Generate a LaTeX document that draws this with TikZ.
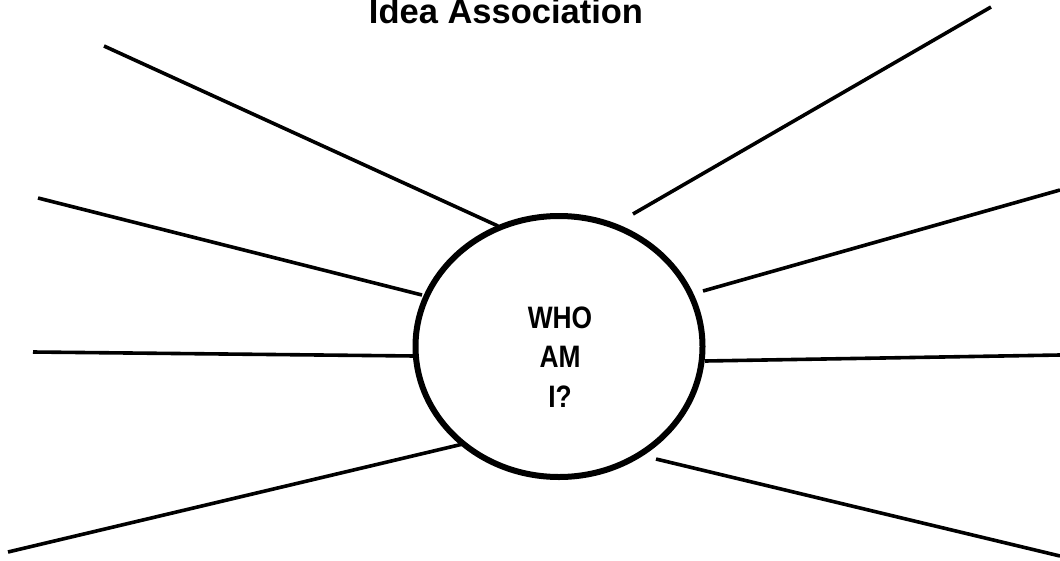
\documentclass[tikz,border=0pt]{standalone}
\usepackage{fontspec}
\setmainfont{Liberation Sans}
\newfontfamily\narrowsans[FakeStretch=0.85]{Liberation Sans}
\usetikzlibrary{shapes.geometric}
\begin{document}
\begin{tikzpicture}[x=1pt,y=-1pt,
  ray/.style={line width=3.6pt},
  bubble/.style={draw, ellipse, line width=6pt, minimum width=287pt, minimum height=261pt, inner sep=0pt},
  label/.style={font=\narrowsans\fontsize{31}{39.5}\selectfont\bfseries, align=center, inner sep=0pt},
  heading/.style={font=\fontsize{34.5}{40}\selectfont\bfseries, inner sep=0pt, anchor=base}]
\useasboundingbox (0,0) rectangle (1060,560);
\node[bubble] (c) at (559,346.5) {};
\node[label] (t) at (560,357) {WHO\\AM\\I?};
\node[heading] (title) at (506,23) {Idea Association};
% left rays
\coordinate (l1) at (104,46);   \coordinate (e1) at (498,226);
\coordinate (l2) at (38,198);   \coordinate (e2) at (422,295);
\coordinate (l3) at (33,352);   \coordinate (e3) at (415,356);
\coordinate (l4) at (8,552);    \coordinate (e4) at (463,444);
% right rays
\coordinate (r1) at (991,7);    \coordinate (f1) at (633,214);
\coordinate (r2) at (1060,190); \coordinate (f2) at (703,291);
\coordinate (r3) at (1060,355); \coordinate (f3) at (705,361);
\coordinate (r4) at (1060,556); \coordinate (f4) at (656,459);
\foreach \i in {1,2,3,4} {
  \draw[ray] (l\i) -- (e\i);
  \draw[ray] (r\i) -- (f\i);
}
\end{tikzpicture}
\end{document}
